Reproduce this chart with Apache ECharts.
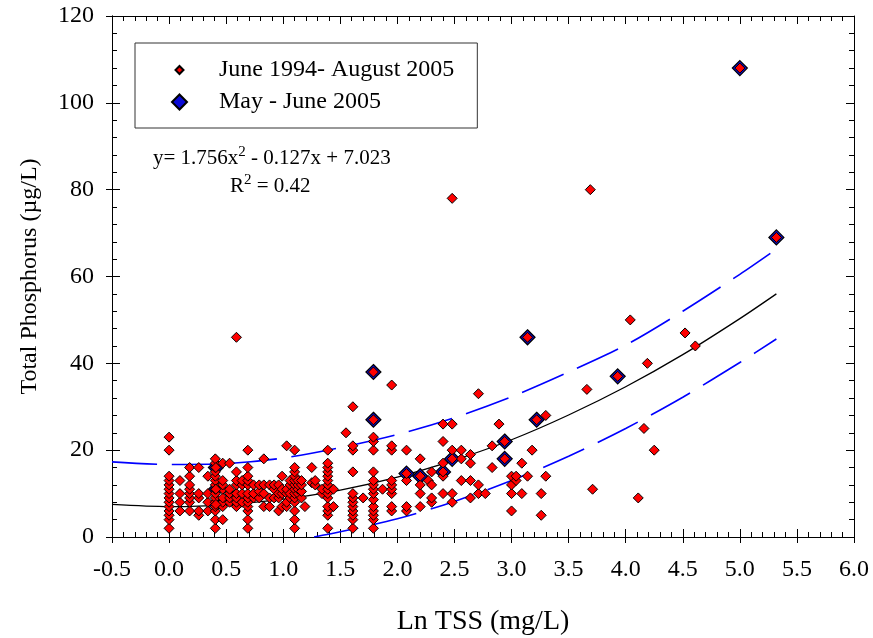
<!DOCTYPE html>
<html>
<head>
<meta charset="utf-8">
<script src="https://cdn.jsdelivr.net/npm/echarts@6/dist/echarts.min.js"></script>
<style>
  html, body { margin: 0; padding: 0; background: #fff; }
  #chart { width: 873px; height: 638px; }
</style>
</head>
<body>
<div id="chart"></div>
<script>
// Ln TSS columns with their Total Phosphorus readings (June 1994 - August 2005)
const juneAugustColumns = [
  [0.0, [2, 4, 5, 6, 7, 8, 9, 10, 11, 12, 13, 14, 20, 23]],
  [0.095, [6, 8, 10, 13]],
  [0.18, [6, 8, 9, 10, 11, 12, 14, 16]],
  [0.26, [5, 6, 9, 10, 16]],
  [0.34, [6, 8, 10, 14]],
  [0.405, [2, 4, 6, 7, 8, 9, 10, 11, 12, 13, 14, 15, 16, 17, 18]],
  [0.47, [4, 7, 8, 9, 11, 12, 13, 17]],
  [0.53, [8, 9, 10, 11, 17]],
  [0.59, [7, 8, 9, 10, 12, 13, 15, 46]],
  [0.64, [8, 10, 12, 13]],
  [0.69, [2, 4, 6, 7, 8, 9, 10, 12, 13, 14, 16, 20]],
  [0.74, [9, 10, 12]],
  [0.79, [9, 10.5, 12]],
  [0.83, [7, 10, 12, 18]],
  [0.88, [7, 9, 12]],
  [0.92, [9, 11, 12]],
  [0.96, [6, 9, 10, 12]],
  [0.99, [7, 10, 11, 14]],
  [1.03, [7, 8, 10, 11, 21]],
  [1.06, [9, 10, 12, 13]],
  [1.10, [2, 4, 6, 8, 9, 10, 11, 12, 13, 14, 15, 16, 20]],
  [1.13, [10, 11, 12, 13]],
  [1.16, [9, 10.5, 12, 13]],
  [1.19, [7]],
  [1.25, [12.5, 16]],
  [1.28, [12, 13]],
  [1.34, [10, 11]],
  [1.39, [2, 5, 6, 7, 9, 10, 11, 12, 13, 14, 15, 16, 17, 20]],
  [1.44, [7, 11]],
  [1.55, [24]],
  [1.61, [2, 4, 5, 6, 7, 8, 9, 10, 15, 20, 21, 30]],
  [1.70, [9]],
  [1.79, [2, 4, 5, 6, 7, 8.6, 10, 11, 12, 13, 15, 20, 22, 23]],
  [1.87, [11]],
  [1.95, [6, 7, 10, 11, 12, 13, 20, 21, 35]],
  [2.08, [6, 7, 13, 20]],
  [2.20, [7, 10, 12, 18]],
  [2.27, [13]],
  [2.30, [8, 9, 12, 15]],
  [2.40, [10, 14, 17, 22, 26]],
  [2.48, [8, 10, 20, 26, 78]],
  [2.56, [13, 18, 20]],
  [2.64, [9, 13, 17, 19]],
  [2.71, [10, 12, 33]],
  [2.77, [10]],
  [2.83, [16, 21]],
  [2.89, [26]],
  [3.00, [6, 10, 12, 14]],
  [3.04, [13, 14]],
  [3.09, [10, 17]],
  [3.14, [14]],
  [3.18, [20]],
  [3.26, [5, 10]],
  [3.30, [14, 28]],
  [3.66, [34]],
  [3.69, [80]],
  [3.71, [11]],
  [4.04, [50]],
  [4.11, [9]],
  [4.16, [25]],
  [4.19, [40]],
  [4.25, [20]],
  [4.52, [47]],
  [4.61, [44]]
]

// May - June 2005 samples
const mayJune = [
  [0.41, 16], [0.41, 11], [0.41, 7.5], [1.79, 38], [1.79, 27], [2.08, 14.6],
  [2.20, 14], [2.40, 15], [2.48, 18], [2.94, 22], [2.94, 18], [3.14, 46],
  [3.22, 27], [3.93, 37], [5.0, 108], [5.32, 69]
]

// regression curve and bounds
const fitLine = [
  [-0.5, 7.5], [0, 7.0], [0.5, 7.4], [1.0, 8.7], [1.5, 10.8], [2.0, 13.8], [2.5, 17.7],
  [3.0, 22.4], [3.5, 28.1], [4.0, 34.6], [4.5, 42.0], [5.0, 50.3], [5.32, 56.0]
]
const upperBound = [
  [-0.5, 17.3], [0, 16.7], [0.5, 16.9], [1.0, 18.2], [1.5, 20.6], [2.0, 23.6], [2.5, 27.5],
  [3.0, 32.3], [3.5, 38.0], [4.0, 44.2], [4.5, 52.0], [5.0, 60.5], [5.32, 66.3]
]
const lowerBound = [
  [1.27, 0], [1.5, 1.2], [2.0, 4.2], [2.5, 8.2], [3.0, 13.0], [3.5, 18.6],
  [4.0, 25.0], [4.5, 32.2], [5.0, 40.2], [5.32, 45.6]
]

const xTicks = { min: -0.5, max: 6.0, interval: 0.5 }
const yTicks = { min: 0, max: 120, interval: 20 }

const juneAugust = []
juneAugustColumns.forEach(([x, ys]) => ys.forEach(y => juneAugust.push([x, y])))

const serif = '"Liberation Serif", "Times New Roman", serif'

function frameAxis(extra) {
  return Object.assign({
    type: 'value',
    splitLine: { show: false },
    axisLine: { show: true, onZero: false, lineStyle: { color: '#000', width: 1 } },
    axisLabel: { show: false },
    axisTick: { show: true, inside: true, length: 8, lineStyle: { color: '#000' } },
    minorTick: { show: true, splitNumber: 5, length: 5, lineStyle: { color: '#000' } }
  }, extra)
}

const eqRich = {
  n: { fontFamily: serif, fontSize: 21, fill: '#000', lineHeight: 24, verticalAlign: 'bottom' },
  s: { fontFamily: serif, fontSize: 15, fill: '#000', lineHeight: 24, verticalAlign: 'top', padding: [0, 0, 8, 0] }
}

const chart = echarts.init(document.getElementById('chart'))

chart.setOption({
  animation: false,
  backgroundColor: '#fff',
  textStyle: { fontFamily: serif },
  grid: { left: 112, right: 19, top: 16, bottom: 101, outerBoundsMode: 'none' },
  legend: {
    orient: 'vertical',
    left: 135,
    top: 43,
    padding: [14, 23, 13, 36],
    itemGap: 6,
    itemWidth: 15,
    itemHeight: 15,
    borderColor: '#333',
    borderWidth: 1,
    backgroundColor: '#fff',
    textStyle: { fontFamily: serif, fontSize: 24, color: '#000', padding: [0, 0, 0, 27], lineHeight: 26 },
    data: [
      { name: 'June 1994- August 2005', icon: 'path://M0,0M7.5,3.5L11.5,7.5L7.5,11.5L3.5,7.5ZM15,15' },
      { name: 'May - June 2005', icon: 'diamond' }
    ]
  },
  xAxis: [
    frameAxis(Object.assign({
      position: 'bottom',
      axisLabel: {
        show: true, margin: 21, fontSize: 24, color: '#000', fontFamily: serif,
        formatter: v => v.toFixed(1)
      },
      axisTick: { show: true, inside: false, length: 6, lineStyle: { color: '#000' } },
      minorTick: { show: false },
      name: 'Ln TSS (mg/L)',
      nameLocation: 'middle',
      nameGap: 71,
      nameTextStyle: { fontSize: 28, color: '#000', fontFamily: serif }
    }, xTicks)),
    frameAxis(Object.assign({ position: 'bottom' }, xTicks)),
    frameAxis(Object.assign({ position: 'top' }, xTicks))
  ],
  yAxis: [
    frameAxis(Object.assign({
      position: 'left',
      axisLabel: { show: true, margin: 18, fontSize: 24, color: '#000', fontFamily: serif },
      axisTick: { show: true, inside: false, length: 6, lineStyle: { color: '#000' } },
      minorTick: { show: false },
      name: 'Total Phosphorus (µg/L)',
      nameLocation: 'middle',
      nameRotate: 90,
      nameGap: 70,
      nameTextStyle: { fontSize: 24, color: '#000', fontFamily: serif }
    }, yTicks)),
    frameAxis(Object.assign({ position: 'left' }, yTicks)),
    frameAxis(Object.assign({ position: 'right' }, yTicks))
  ],
  graphic: [
    {
      type: 'text', left: 153, top: 145,
      style: { text: '{n|y= 1.756x}{s|2}{n| - 0.127x + 7.023}', rich: eqRich }
    },
    {
      type: 'text', left: 230, top: 173,
      style: { text: '{n|R}{s|2}{n| = 0.42}', rich: eqRich }
    }
  ],
  series: [
    {
      name: 'fit',
      type: 'line',
      data: fitLine,
      smooth: 0.3,
      symbol: 'none',
      lineStyle: { color: '#000', width: 1.3 },
      z: 2
    },
    {
      name: 'upper',
      type: 'line',
      data: upperBound,
      smooth: 0.3,
      symbol: 'none',
      lineStyle: { color: '#0000ff', width: 1.6, type: [45, 15] },
      z: 2
    },
    {
      name: 'lower',
      type: 'line',
      data: lowerBound,
      smooth: 0.3,
      symbol: 'none',
      lineStyle: { color: '#0000ff', width: 1.6, type: [45, 15] },
      z: 2
    },
    {
      name: 'May - June 2005',
      type: 'scatter',
      data: mayJune,
      symbol: 'diamond',
      symbolSize: 15,
      itemStyle: { color: '#0a0ad6', borderColor: '#000', borderWidth: 1.2, opacity: 1 },
      z: 3
    },
    {
      name: 'June 1994- August 2005',
      type: 'scatter',
      data: juneAugust.concat(mayJune),
      symbol: 'diamond',
      symbolSize: 10,
      itemStyle: { color: '#ff0000', borderColor: '#000', borderWidth: 1, opacity: 1 },
      z: 4
    }
  ]
})
</script>
</body>
</html>
